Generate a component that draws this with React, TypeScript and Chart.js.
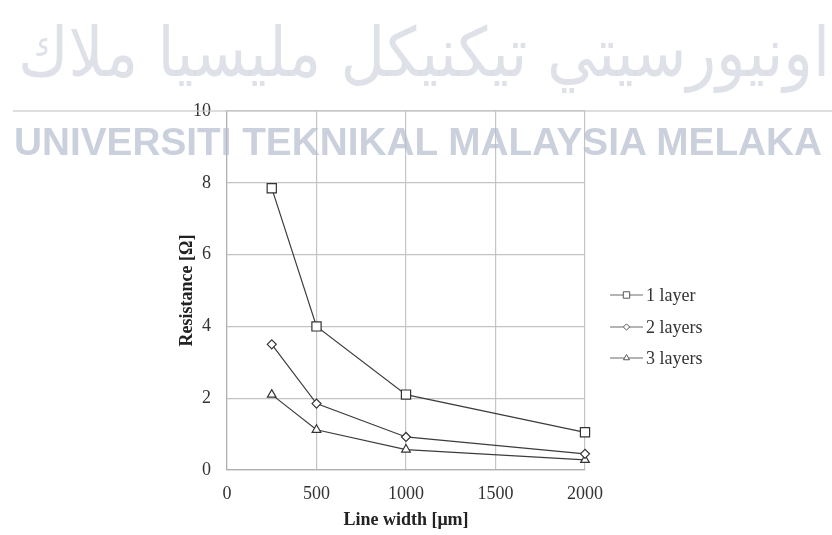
import React, { useEffect, useRef } from "react";
import { Chart, registerables } from "chart.js";

Chart.register(...registerables);

const lineWidths = [250, 500, 1000, 2000];
const seriesLabels = ["1 layer", "2 layers", "3 layers"];
const layer1 = [7.85, 4.0, 2.1, 1.05];
const layer2 = [3.5, 1.85, 0.92, 0.45];
const layer3 = [2.1, 1.12, 0.57, 0.28];
const pointStyles = ["rect", "rectRot", "triangle"];
const pointRadii = [6.5, 4.5, 5];
const xTicks = [0, 500, 1000, 1500, 2000];
const yTicks = [0, 2, 4, 6, 8, 10];

const SERIF = "'Liberation Serif', 'DejaVu Serif', serif";

function drawMarker(ctx: CanvasRenderingContext2D, style: string, x: number, y: number, r: number) {
  ctx.beginPath();
  if (style === "rect") {
    const s = Math.SQRT1_2 * r;
    ctx.rect(x - s, y - s, 2 * s, 2 * s);
  } else if (style === "rectRot") {
    ctx.moveTo(x, y - r);
    ctx.lineTo(x + r, y);
    ctx.lineTo(x, y + r);
    ctx.lineTo(x - r, y);
    ctx.closePath();
  } else {
    ctx.moveTo(x, y - r);
    ctx.lineTo(x + Math.cos(Math.PI / 6) * r, y + Math.sin(Math.PI / 6) * r);
    ctx.lineTo(x - Math.cos(Math.PI / 6) * r, y + Math.sin(Math.PI / 6) * r);
    ctx.closePath();
  }
  ctx.fillStyle = "#ffffff";
  ctx.fill();
  ctx.stroke();
}

const legendPlugin = {
  id: "customLegend",
  afterDraw(chart: any) {
    const ctx = chart.ctx as CanvasRenderingContext2D;
    const rows = [295, 327, 358];
    ctx.save();
    chart.data.datasets.forEach((ds: any, i: number) => {
      const y = rows[i];
      ctx.strokeStyle = "#6a6a6a";
      ctx.lineWidth = 1.2;
      ctx.beginPath();
      ctx.moveTo(610, y);
      ctx.lineTo(643, y);
      ctx.stroke();
      ctx.lineWidth = 1;
      ctx.strokeStyle = "#555";
      drawMarker(ctx, ds.pointStyle, 626.5, y, ds.pointRadius * 0.7);
      ctx.fillStyle = "#333";
      ctx.font = `18px ${SERIF}`;
      ctx.textBaseline = "middle";
      ctx.textAlign = "left";
      ctx.fillText(ds.label, 646, y + 1);
    });
    ctx.restore();
  },
};

export default function App() {
  const ref = useRef<HTMLCanvasElement | null>(null);

  useEffect(() => {
    if (!ref.current) return;
    const series = [layer1, layer2, layer3];
    const chart = new Chart(ref.current, {
      type: "line",
      data: {
        datasets: series.map((vals, i) => ({
          label: seriesLabels[i],
          data: vals.map((v, j) => ({ x: lineWidths[j], y: v })),
          borderColor: "#3c3c3c",
          borderWidth: 1.2,
          pointStyle: pointStyles[i] as any,
          pointRadius: pointRadii[i],
          pointBackgroundColor: "#ffffff",
          pointBorderColor: "#333333",
          pointBorderWidth: 1.2,
          tension: 0,
          fill: false,
          clip: false as any,
        })),
      },
      options: {
        responsive: false,
        animation: false,
        devicePixelRatio: 1,
        layout: { padding: { top: 111, right: 247, left: 0, bottom: 0 } },
        plugins: { legend: { display: false }, tooltip: { enabled: false } },
        scales: {
          x: {
            type: "linear",
            min: 0,
            max: 2000,
            afterBuildTicks: (s: any) => {
              s.ticks = xTicks.map((v) => ({ value: v }));
            },
            afterFit: (s: any) => {
              s.height = 65;
            },
            ticks: {
              font: { family: SERIF, size: 18 },
              color: "#333",
              padding: 13,
              callback: (v: any) => String(v),
            },
            grid: { color: "#c4c4c4", lineWidth: 1.2, drawTicks: false },
            border: { color: "#b0b0b0", width: 1.2 },
            title: {
              display: true,
              text: "Line width [μm]",
              font: { family: SERIF, size: 18, weight: "bold" },
              color: "#222",
              padding: { top: 0, bottom: 4 },
            },
          },
          y: {
            type: "linear",
            min: 0,
            max: 10,
            afterBuildTicks: (s: any) => {
              s.ticks = yTicks.map((v) => ({ value: v }));
            },
            afterFit: (s: any) => {
              s.width = 227;
            },
            ticks: {
              font: { family: SERIF, size: 18 },
              color: "#333",
              padding: 16,
              callback: (v: any) => String(v),
            },
            grid: { color: "#c4c4c4", lineWidth: 1.2, drawTicks: false },
            border: { color: "#b0b0b0", width: 1.2 },
            title: {
              display: true,
              text: "Resistance [Ω]",
              font: { family: SERIF, size: 18, weight: "bold" },
              color: "#222",
              padding: { top: 177, bottom: 0 },
            },
          },
        },
      },
      plugins: [legendPlugin],
    });
    return () => chart.destroy();
  }, []);

  return (
    <div style={{ position: "absolute", left: 0, top: 0, width: 832, height: 535, background: "#fff", overflow: "hidden" }}>
      <canvas ref={ref} width={832} height={535} style={{ position: "absolute", left: 0, top: 0 }} />
      <svg width={832} height={535} style={{ position: "absolute", left: 0, top: 0, pointerEvents: "none" }}>
        <line x1={13} y1={111} x2={832} y2={111} stroke="#c8c8c8" strokeOpacity={0.6} strokeWidth={2} />
        <text
          x={18}
          y={76}
          textLength={812}
          lengthAdjust="spacingAndGlyphs"
          fontFamily="'DejaVu Sans', 'Noto Sans', sans-serif"
          fontSize={68}
          fill="#d6dae2"
          fillOpacity={0.8}
        >
          اونيورسيتي تيكنيكل مليسيا ملاك
        </text>
        <text
          x={14}
          y={155}
          textLength={808}
          lengthAdjust="spacingAndGlyphs"
          fontFamily="'Liberation Sans', Arial, sans-serif"
          fontSize={38}
          fontWeight="bold"
          fill="#b3bccd"
          fillOpacity={0.7}
        >
          UNIVERSITI TEKNIKAL MALAYSIA MELAKA
        </text>
      </svg>
    </div>
  );
}
